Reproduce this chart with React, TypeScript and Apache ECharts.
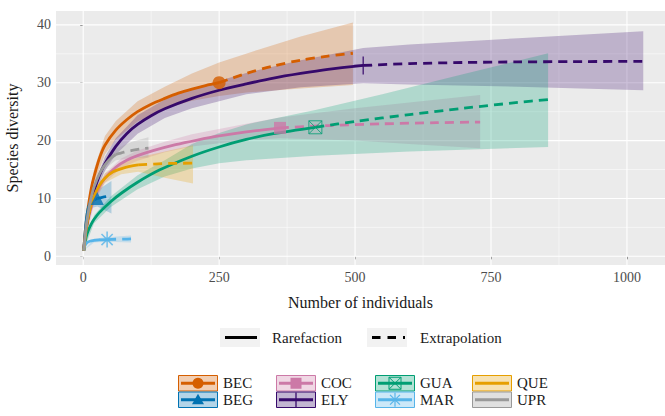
import React, { useEffect, useRef } from "react";
import * as echarts from "echarts";

const groups = ["BEC", "BEG", "COC", "ELY", "GUA", "MAR", "QUE", "UPR"];
const colors = ["#D55E00", "#0072B2", "#CC79A7", "#36096B", "#009E73", "#56B4E9", "#E69F00", "#999999"];

const xTicks = [0, 250, 500, 750, 1000];
const xMinor = [125, 375, 625, 875];
const yTicks = [0, 10, 20, 30, 40];
const yMinor = [5, 15, 25, 35];

// BEC
const becRare = [[1, 1], [3, 3.5], [6, 6.3], [10, 9], [15, 11.8], [20, 13.8], [30, 17], [40, 19.2], [60, 21.8], [80, 23.6], [100, 25], [125, 26.3], [150, 27.3], [175, 28.2], [200, 28.9], [225, 29.5], [250, 30]];
const becExtra = [[250, 30], [300, 31.6], [350, 32.9], [400, 33.9], [450, 34.6], [496, 35.1]];
const becLower = [[1, 1], [10, 8.3], [20, 12.6], [40, 17.6], [60, 20.2], [100, 23.3], [150, 25.5], [200, 26.9], [250, 27.7], [300, 28.3], [400, 29], [496, 29.6]];
const becUpper = [[1, 1], [10, 9.8], [20, 15], [40, 20.8], [60, 23.4], [100, 26.8], [150, 29.3], [200, 31.6], [250, 33.5], [325, 35.8], [400, 38], [496, 40.4]];

// BEG
const begRare = [[1, 1], [3, 3.5], [6, 6.5], [9, 8.2], [13, 9.2], [19, 9.7], [26, 10]];
const begExtra = [[26, 10], [35, 10.2], [45, 10.35], [52, 10.4]];
const begLower = [[1, 1], [13, 8.3], [26, 8.6], [52, 7.4]];
const begUpper = [[1, 1], [13, 10.3], [26, 11.4], [52, 13]];

// COC
const cocRare = [[1, 1], [3, 2.8], [6, 4.8], [10, 6.7], [15, 8.5], [20, 9.9], [30, 12], [40, 13.5], [60, 15.4], [80, 16.6], [100, 17.4], [130, 18.3], [170, 19.3], [210, 20.1], [250, 20.8], [300, 21.5], [362, 22.2]];
const cocExtra = [[362, 22.2], [450, 22.6], [550, 22.9], [650, 23.1], [730, 23.2]];
const cocLower = [[1, 1], [20, 9.2], [40, 12.7], [70, 15.3], [100, 16.5], [150, 18], [200, 19], [300, 20.1], [362, 20.4], [500, 20], [600, 19.4], [730, 18.7]];
const cocUpper = [[1, 1], [20, 10.6], [40, 14.3], [70, 16.9], [100, 18.3], [150, 19.8], [200, 21.1], [300, 22.9], [362, 24], [500, 25.6], [600, 26.6], [730, 27.9]];

// ELY
const elyRare = [[1, 1], [3, 2.8], [6, 5], [10, 7.2], [15, 9.5], [20, 11.3], [30, 14], [40, 16], [60, 19], [80, 21.2], [100, 22.8], [125, 24.3], [150, 25.5], [200, 27.3], [250, 28.7], [300, 29.8], [350, 30.8], [400, 31.6], [450, 32.3], [515, 33]];
const elyExtra = [[515, 33], [600, 33.3], [700, 33.5], [800, 33.6], [900, 33.65], [1030, 33.7]];
const elyLower = [[1, 1], [10, 6.6], [20, 10.3], [40, 14.8], [60, 17.6], [100, 21.2], [150, 23.9], [200, 25.6], [300, 28], [400, 29.2], [515, 29.9], [600, 29.7], [800, 29.3], [1030, 28.7]];
const elyUpper = [[1, 1], [10, 7.8], [20, 12.3], [40, 17.2], [60, 20.4], [100, 24.4], [150, 27.1], [200, 29], [300, 31.7], [400, 33.9], [515, 36], [600, 36.6], [800, 37.7], [1030, 38.9]];

// GUA
const guaRare = [[1, 1], [3, 2.2], [6, 3.5], [10, 4.6], [15, 5.6], [20, 6.4], [30, 7.6], [50, 9.4], [70, 10.9], [100, 12.8], [140, 14.9], [200, 17.3], [250, 18.9], [300, 20.2], [350, 21.2], [427, 22.3]];
const guaExtra = [[427, 22.3], [500, 23.3], [600, 24.5], [700, 25.6], [800, 26.6], [855, 27.1]];
const guaLower = [[1, 1], [20, 5.7], [50, 8.5], [100, 11.6], [150, 13.8], [200, 15.2], [250, 16.1], [300, 16.6], [427, 17.4], [600, 18.1], [855, 18.9]];
const guaUpper = [[1, 1], [20, 7.1], [50, 10.3], [100, 14], [150, 16.6], [200, 19.4], [250, 21.3], [300, 22.8], [427, 25.3], [550, 28], [700, 31.5], [855, 35.1]];

// MAR
const marRare = [[1, 1], [2, 1.5], [4, 2], [7, 2.35], [12, 2.6], [20, 2.75], [30, 2.85], [44, 2.9]];
const marExtra = [[44, 2.9], [60, 2.95], [75, 2.98], [88, 3]];
const marLower = [[1, 1], [20, 2.4], [44, 2.5], [88, 2.4]];
const marUpper = [[1, 1], [20, 3.1], [44, 3.3], [88, 3.6]];

// QUE
const queRare = [[1, 1], [3, 2.8], [6, 5], [10, 7], [15, 9], [20, 10.4], [30, 12.3], [40, 13.5], [55, 14.6], [75, 15.3], [101, 15.8]];
const queExtra = [[101, 15.8], [130, 15.95], [160, 16.05], [202, 16.1]];
const queLower = [[1, 1], [10, 6.3], [20, 9.6], [40, 12.7], [70, 14.2], [101, 14.6], [150, 13.6], [202, 12.6]];
const queUpper = [[1, 1], [10, 7.7], [20, 11.2], [40, 14.3], [70, 16.2], [101, 17.1], [150, 18.1], [202, 19.2]];

// UPR
const uprRare = [[1, 1], [3, 3], [6, 5.6], [10, 8], [15, 10.3], [20, 12], [30, 14.3], [40, 15.8], [50, 16.9], [60, 17.6]];
const uprExtra = [[60, 17.6], [75, 18], [90, 18.3], [105, 18.55], [120, 18.7]];
const uprLower = [[1, 1], [10, 7.3], [20, 11], [30, 13.3], [45, 15.5], [60, 16.6], [90, 17], [120, 17.1]];
const uprUpper = [[1, 1], [10, 8.7], [20, 12.6], [30, 15], [45, 17], [60, 18.6], [90, 19.8], [120, 20.6]];

const rare = [becRare, begRare, cocRare, elyRare, guaRare, marRare, queRare, uprRare];
const extra = [becExtra, begExtra, cocExtra, elyExtra, guaExtra, marExtra, queExtra, uprExtra];
const lower = [becLower, begLower, cocLower, elyLower, guaLower, marLower, queLower, uprLower];
const upper = [becUpper, begUpper, cocUpper, elyUpper, guaUpper, marUpper, queUpper, uprUpper];

const SERIF = "Liberation Serif";

const plusPath = "path://M5,0L5,10M0,5L10,5";
const sqCrossPath = "path://M0,0L10,0L10,10L0,10ZM0,0L10,10M10,0L0,10";
const starPath = "path://M5,0L5,10M0,5L10,5M1.5,1.5L8.5,8.5M8.5,1.5L1.5,8.5";

const markerDefs: any[] = [
  { symbol: "circle", size: 13, filled: true },
  { symbol: "triangle", size: 13, filled: true },
  { symbol: "rect", size: 12, filled: true },
  { symbol: plusPath, size: 18, filled: false, bw: 1.5 },
  { symbol: sqCrossPath, size: 13, filled: false, bw: 1 },
  { symbol: starPath, size: 16, filled: false, bw: 1.5 },
  null,
  null,
];

function alpha(c: string, a: number) {
  return echarts.color.modifyAlpha(c, a);
}

function txt(text: string, x: number, y: number) {
  return {
    type: "text", x, y, silent: true,
    style: { text, fontSize: 15, fontFamily: SERIF, fill: "#1A1A1A", verticalAlign: "middle", align: "left" },
  };
}

function buildLegendGraphics(): any[] {
  const els: any[] = [];
  els.push({ type: "rect", shape: { x: 220, y: 328, width: 40, height: 19 }, style: { fill: "#F2F2F2" }, silent: true });
  els.push({ type: "line", shape: { x1: 225, y1: 337.5, x2: 257, y2: 337.5 }, style: { stroke: "#000", lineWidth: 3 }, silent: true });
  els.push(txt("Rarefaction", 272, 337.5));
  els.push({ type: "rect", shape: { x: 367, y: 328, width: 40, height: 19 }, style: { fill: "#F2F2F2" }, silent: true });
  els.push({ type: "line", shape: { x1: 372, y1: 337.5, x2: 405, y2: 337.5 }, style: { stroke: "#000", lineWidth: 3, lineDash: [8.5, 7] }, silent: true });
  els.push(txt("Extrapolation", 420, 337.5));

  const colX = [178, 276, 375, 472];
  for (let i = 0; i < groups.length; i++) {
    const col = Math.floor(i / 2);
    const row = i % 2;
    const x = colX[col];
    const y = 375 + row * 16.5;
    const w = 40;
    const h = 16.5;
    const c = colors[i];
    const cy = y + h / 2;
    const cx = x + w / 2;
    els.push({ type: "rect", shape: { x: x + 0.5, y: y + 0.5, width: w - 1, height: h - 1 }, style: { fill: alpha(c, 0.3), stroke: c, lineWidth: 1 }, silent: true });
    els.push({ type: "line", shape: { x1: x + 3, y1: cy, x2: x + w - 3, y2: cy }, style: { stroke: c, lineWidth: 3 }, silent: true });
    if (i === 0) els.push({ type: "circle", shape: { cx, cy, r: 5.5 }, style: { fill: c }, silent: true });
    if (i === 1) els.push({ type: "polygon", shape: { points: [[cx, cy - 6], [cx - 6, cy + 4.5], [cx + 6, cy + 4.5]] }, style: { fill: c }, silent: true });
    if (i === 2) els.push({ type: "rect", shape: { x: cx - 5.5, y: cy - 5.5, width: 11, height: 11 }, style: { fill: c }, silent: true });
    if (i === 3) els.push({ type: "line", shape: { x1: cx, y1: y + 1, x2: cx, y2: y + h - 1 }, style: { stroke: c, lineWidth: 1.3 }, silent: true });
    if (i === 4) {
      els.push({ type: "rect", shape: { x: cx - 6, y: cy - 6, width: 12, height: 12 }, style: { fill: "none", stroke: c, lineWidth: 1 }, silent: true });
      els.push({ type: "line", shape: { x1: cx - 6, y1: cy - 6, x2: cx + 6, y2: cy + 6 }, style: { stroke: c, lineWidth: 1 }, silent: true });
      els.push({ type: "line", shape: { x1: cx + 6, y1: cy - 6, x2: cx - 6, y2: cy + 6 }, style: { stroke: c, lineWidth: 1 }, silent: true });
    }
    if (i === 5) {
      const r = 7;
      for (let k = 0; k < 4; k++) {
        const ang = (k * Math.PI) / 4;
        els.push({ type: "line", shape: { x1: cx - r * Math.cos(ang), y1: cy - r * Math.sin(ang), x2: cx + r * Math.cos(ang), y2: cy + r * Math.sin(ang) }, style: { stroke: c, lineWidth: 1.2 }, silent: true });
      }
    }
    els.push(txt(groups[i], x + 45, cy));
  }
  return els;
}

function gridLineSeries(values: number[], dir: "x" | "y", width: number) {
  return {
    type: "custom",
    z: 1,
    silent: true,
    clip: false,
    data: values.map((v) => (dir === "x" ? [v, 0] : [0, v])),
    renderItem: (params: any, api: any) => {
      const cs = params.coordSys;
      if (dir === "x") {
        const x = api.coord([api.value(0), 0])[0];
        return { type: "line", shape: { x1: x, y1: cs.y, x2: x, y2: cs.y + cs.height }, style: { stroke: "#FFFFFF", lineWidth: width } };
      }
      const y = api.coord([0, api.value(1)])[1];
      return { type: "line", shape: { x1: cs.x, y1: y, x2: cs.x + cs.width, y2: y }, style: { stroke: "#FFFFFF", lineWidth: width } };
    },
  };
}

function bandSeries(lo: number[][], up: number[][], c: string) {
  return {
    type: "custom",
    z: 2,
    silent: true,
    data: [[up[0][0], up[0][1]]],
    renderItem: (_params: any, api: any) => {
      const pts = up.map((p) => api.coord(p)).concat(lo.slice().reverse().map((p) => api.coord(p)));
      return { type: "polygon", shape: { points: pts }, style: { fill: alpha(c, 0.25) } };
    },
  };
}

export default function App() {
  const ref = useRef<HTMLDivElement>(null);
  useEffect(() => {
    if (!ref.current) return;
    const chart = echarts.init(ref.current, undefined, { renderer: "svg" });
    const series: any[] = [];
    series.push(gridLineSeries(xMinor, "x", 0.5));
    series.push(gridLineSeries(yMinor, "y", 0.5));
    series.push(gridLineSeries(xTicks, "x", 1.1));
    series.push(gridLineSeries(yTicks, "y", 1.1));
    for (let i = 0; i < groups.length; i++) series.push(bandSeries(lower[i], upper[i], colors[i]));
    for (let i = 0; i < groups.length; i++) {
      series.push({
        type: "line", name: groups[i], z: 3, data: rare[i], showSymbol: false, smooth: 0.3, silent: true,
        lineStyle: { color: colors[i], width: 2.8, cap: "butt" },
      });
      series.push({
        type: "line", name: groups[i] + " extrapolation", z: 3, data: extra[i], showSymbol: false, smooth: 0.3, silent: true,
        lineStyle: { color: colors[i], width: 2.8, type: [9, 6], cap: "butt" },
      });
    }
    for (let i = 0; i < groups.length; i++) {
      const m = markerDefs[i];
      if (!m) continue;
      const obs = rare[i][rare[i].length - 1];
      series.push({
        type: "scatter", z: 4, silent: true, data: [obs], symbol: m.symbol, symbolSize: m.size,
        itemStyle: m.filled ? { color: colors[i] } : { color: "rgba(0,0,0,0)", borderColor: colors[i], borderWidth: m.bw },
      });
    }
    const labelStyle = { color: "#4D4D4D", fontFamily: SERIF, fontSize: 14, margin: 5, formatter: (v: number) => String(v) };
    chart.setOption({
      animation: false,
      backgroundColor: "#FFFFFF",
      grid: { left: 56, top: 11, right: 0, bottom: 151, show: true, backgroundColor: "#EBEBEB", borderWidth: 0, containLabel: false, outerBoundsMode: "none" },
      xAxis: {
        type: "value", min: -50, max: 1070,
        splitLine: { show: false }, axisLine: { show: false },
        axisTick: { show: true, length: 3, lineStyle: { color: "#333333", width: 1 }, customValues: xTicks },
        axisLabel: { ...labelStyle, customValues: xTicks },
        name: "Number of individuals", nameLocation: "middle", nameGap: 29,
        nameTextStyle: { fontFamily: SERIF, fontSize: 16, color: "#1A1A1A" },
      },
      yAxis: {
        type: "value", min: -1.5, max: 42.4,
        splitLine: { show: false }, axisLine: { show: false },
        axisTick: { show: true, length: 3, lineStyle: { color: "#333333", width: 1 }, customValues: yTicks },
        axisLabel: { ...labelStyle, customValues: yTicks },
        name: "Species diversity", nameLocation: "middle", nameGap: 36, nameRotate: 90,
        nameTextStyle: { fontFamily: SERIF, fontSize: 16, color: "#1A1A1A" },
      },
      graphic: { elements: buildLegendGraphics() },
      series,
    });
    return () => chart.dispose();
  }, []);
  return <div ref={ref} style={{ position: "fixed", left: 0, top: 0, width: 665, height: 416 }} />;
}
